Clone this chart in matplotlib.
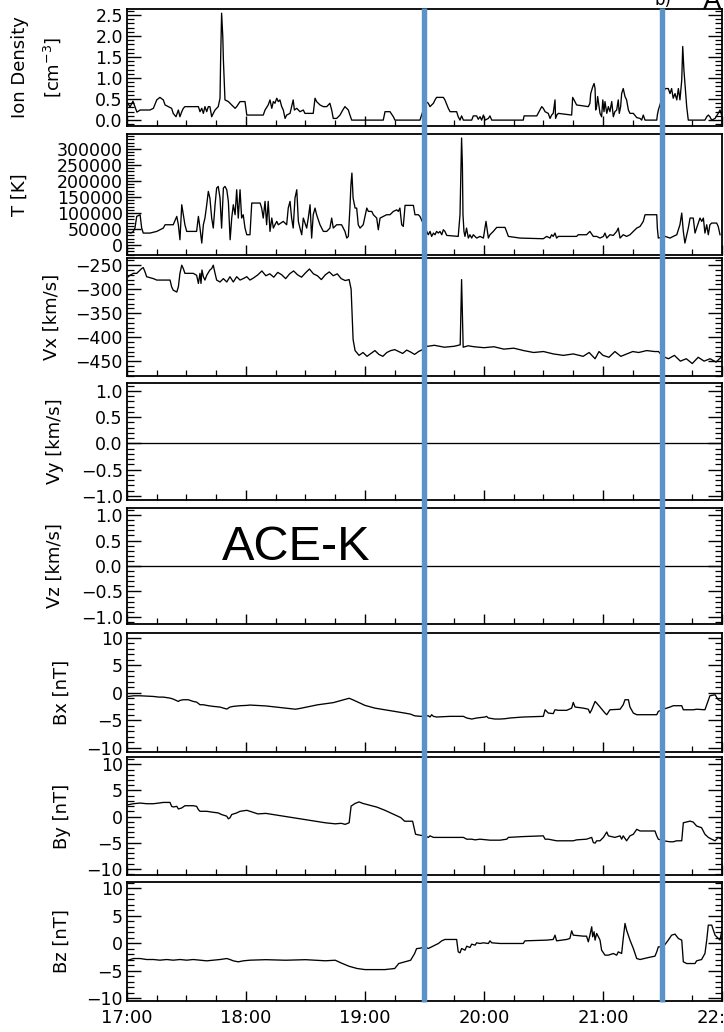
import matplotlib
matplotlib.use("Agg")
import matplotlib.pyplot as plt
from matplotlib.ticker import MultipleLocator, AutoMinorLocator, FuncFormatter
from matplotlib.lines import Line2D

# ---------------- data (time in minutes after 17:00 UT) ----------------
den_min = [0.5, 1.5, 3, 5, 6.6, 10.1, 11.6, 13.3, 15, 16.6, 18.3, 19.2, 20.8, 22.5, 23.3, 24.7, 25.9, 26.7,
           27.6, 28.4, 29.2, 36, 36.8, 37.7, 38.5, 39.3, 40.2, 41, 41.8, 42.7, 43.5, 44.4, 46, 46.9, 47.2,
           47.7, 48.3, 48.6, 49.4, 51.1, 52.8, 54.5, 55.3, 57, 59.5, 60.4, 68.7, 69.6, 71.2, 72.1, 73, 73.8,
           74.6, 75.5, 76.3, 77.1, 78, 78.8, 79.7, 80.5, 82.2, 83, 83.8, 84.4, 85.6, 87.2, 88.9, 89.7, 93.9,
           94.8, 95.6, 97.3, 99, 100.7, 102.3, 103.2, 104, 105.7, 107.4, 108.8, 109.9, 111.6, 112.4, 113.3,
           129.2, 130.1, 132.6, 134.3, 135.1, 147.7,
           150.8, 151.9, 152.8, 153.6, 154.5, 155.3, 156.1, 159.5, 160.3, 162, 162.9, 166.2, 167, 167.9,
           168.7, 169.6, 173.8, 174.6, 176.3, 177.1, 178, 178.8, 179.7, 180.5, 182.2, 183, 183.9, 199.8,
           200.2, 206.6, 208.2, 209.1, 209.9, 210.8, 212.4, 213.3, 214.1, 214.9, 215.8, 216.1, 216.7, 217.5,
           224.2, 224.7, 225.4, 226.7, 232.6, 233.4, 233.8, 234.8, 235.5, 236, 236.3, 236.8, 237.3, 237.8,
           238.5, 239.3, 239.9, 240.5, 241, 241.9, 242.7, 243.5, 244.4, 245.2, 246, 246.9, 247.7, 248.2,
           248.9, 249.4, 250.2, 251.1, 251.9, 252.8, 253.6, 255.3, 257, 258.7, 259.5, 260.3, 261.2, 267.1,
           267.4, 267.9, 271.3, 272.9, 273.8, 274.6, 275.4, 276.3, 277.2, 278, 278.8, 279.7, 280.2, 280.8,
           281.3, 282.2, 283, 291.4, 292.3, 293.1, 293.9, 294.8, 296.5, 298.1, 299, 299.8]
den_val = [0.40, 0.31, 0.45, 0.19, 0.24, 0.24, 0.24, 0.28, 0.48, 0.54, 0.48, 0.36, 0.32, 0.28, 0.16, 0.08, 0.24,
           0.08, 0.20, 0.28, 0.32, 0.32, 0.20, 0.28, 0.16, 0.32, 0.20, 0.32, 0.32, 0.08, 0.16, 0.24, 0.32, 0.52,
           1.43, 2.54, 1.98, 1.43, 0.48, 0.44, 0.36, 0.28, 0.32, 0.44, 0.44, 0.12, 0.12, 0.24, 0.36, 0.48, 0.28,
           0.44, 0.40, 0.52, 0.44, 0.48, 0.32, 0.24, 0.04, 0.12, 0.16, 0.32, 0.48, 0.24, 0.28, 0.20, 0.24, 0.16,
           0.16, 0.52, 0.44, 0.36, 0.32, 0.32, 0.40, 0.24, 0.04, 0.04, 0.12, 0.24, 0.32, 0.24, 0.12, 0.00,
           0.00, 0.20, 0.20, 0.08, 0.00, 0.00,
           0.44, 0.40, 0.32, 0.36, 0.40, 0.48, 0.54, 0.54, 0.48, 0.28, 0.20, 0.20, 0.08, 0.00,
           0.10, 0.00, 0.00, 0.10, 0.10, 0.02, 0.08, 0.00, 0.12, 0.00, 0.04, 0.10, 0.00, 0.00,
           0.10, 0.10, 0.24, 0.32, 0.28, 0.20, 0.16, 0.04, 0.12, 0.16, 0.48, 0.04, 0.12, 0.16,
           0.12, 0.54, 0.48, 0.36, 0.32, 0.40, 0.63, 0.79, 0.87, 0.75, 0.24, 0.32, 0.56, 0.40,
           0.16, 0.08, 0.48, 0.20, 0.44, 0.16, 0.32, 0.20, 0.44, 0.08, 0.20, 0.24, 0.48, 0.16,
           0.32, 0.63, 0.75, 0.56, 0.48, 0.24, 0.16, 0.16, 0.06, 0.04, 0.00, 0.12, 0.00, 0.00,
           0.12, 0.24, 0.75, 0.75, 0.63, 0.75, 0.52, 0.63, 0.48, 0.75, 0.48, 0.95, 1.75, 1.19,
           0.87, 0.32, 0.00, 0.00, 0.08, 0.12, 0.08, 0.00, 0.04, 0.16, 0.24, 0.12]

temp_min = [0.7, 2, 3.2, 4, 4.9, 6.6, 7.4, 8.2, 9.1, 11.6, 15, 18.3, 19.2, 23.3, 25.1, 25.9, 26.7, 27.6, 28.4,
            29.2, 30.1, 35.1, 36, 36.8, 37.7, 38.5, 39.3, 40.2, 41, 41.8, 42.7, 43.5, 44.4, 45.2, 46, 46.9,
            47.7, 48.6, 49.4, 50.3, 51.1, 52, 52.8, 53.6, 54.5, 55.3, 56.1, 57, 57.8, 58.6, 59.5, 60.4, 62,
            62.9, 67.1, 67.9, 68.7, 69.6, 70.4, 71.2, 72.1, 73, 73.8, 74.6, 75.5, 76.3, 78.8, 80.5, 81.3, 82.2,
            83, 83.8, 84.7, 85.6, 86.4, 87.2, 88.1, 88.9, 90.6, 91.4, 92.3, 93.1, 93.9, 94.8, 95.6, 97.3, 99,
            100.7, 102.3, 103.2, 104, 105.7, 108.2, 109.9, 110.8, 111.6, 112.4, 112.9, 113.4, 114, 115, 115.8,
            116.6, 117.5, 119.1, 120.9, 121.7, 123.4, 124.2, 125.9, 126.7, 127.6, 129.2, 130.9, 132.6, 134.3,
            136, 136.8, 137.6, 138.5, 139.3, 140.2, 142.7, 144.4, 145.2, 146.9, 147.7,
            150.8, 151.9, 152.8, 153.6, 154.5, 155.3, 156.1, 157, 157.8, 158.7, 159.5, 160.3, 161.2, 167,
            167.9, 168.4, 168.7, 169.1, 169.4, 169.9, 170.4, 171.2, 172.1, 172.9, 173.8, 174.6, 176.3, 178,
            179.7, 180.5, 181, 181.7, 182.2, 183, 184.7, 186.4, 190.6, 192.3, 198.1, 209.9, 211.6, 213.3,
            214.1, 214.9, 215.8, 216.6, 217.5, 220, 226.7, 227.5, 231.7, 233.4, 235.1, 236.8, 238.5, 240.2,
            241, 241.9, 243.5, 245.2, 246.9, 247.7, 248.6, 249.4, 250.2, 251.9, 253.6, 255.3, 257, 258.7,
            260.3, 261.2, 267.1, 267.4, 267.9, 271.3, 273.8, 275.4, 277.2, 278.8, 279.7, 280.5, 281.3, 283,
            283.9, 285.5, 286.4, 287.2, 288.9, 289.8, 290.6, 291.4, 292.3, 293.1, 293.9, 294.8, 297.3, 298.1,
            299]
temp_val = [40000, 37500, 42700, 53100, 89600, 94700, 53100, 37500, 37500, 37500, 42700, 53100, 63500, 63500,
            89600, 63500, 16700, 126000, 94800, 63500, 42700, 42700, 89600, 53100, 6250, 63500, 84400, 126000,
            167700, 146900, 84400, 53100, 126000, 178100, 183300, 146900, 53100, 178100, 183300, 172900,
            136500, 16700, 84400, 126000, 94800, 172900, 84400, 172900, 84400, 94800, 53100, 32300, 32300,
            131300, 131300, 115600, 84400, 136500, 63500, 136500, 42700, 84400, 53100, 63500, 74000, 63500,
            74000, 63500, 115600, 136500, 84400, 53100, 146900, 172900, 74000, 53100, 32300, 84400, 53100,
            84400, 126000, 21900, 94800, 115600, 94800, 63500, 42700, 42700, 53100, 84400, 53100, 63500,
            63500, 42700, 21900, 27100, 115600, 188400, 225000, 146900, 115600, 115600, 63500, 53100, 63500,
            115600, 105200, 105200, 94800, 84400, 47900, 84400, 89600, 94800, 94800, 105200, 110000, 105200,
            115600, 63500, 58300, 124000, 124000, 124000, 94800, 94800, 89600,
            47900, 32300, 42700, 27100, 37500, 32300, 42700, 37500, 42700, 32300, 47900, 42700, 30200, 27100,
            94800, 251000, 334400, 251000, 94800, 42700, 27100, 53100, 21900, 32300, 21900, 32300, 21900,
            27100, 21900, 53100, 74000, 42700, 21900, 32300, 42700, 55200, 55200, 27100, 21900, 19800, 27100,
            21900, 32300, 27100, 37500, 21900, 27100, 27100, 27100, 32300, 32300, 42700, 27100, 27100, 21900,
            27100, 37500, 21900, 32300, 30200, 42700, 53100, 21900, 27100, 32300, 27100, 32300, 42700, 53100,
            58300, 74000, 94800, 94800, 53100, 21900, 27100, 21900, 27100, 32300, 63500, 100000, 42700, 6250,
            53100, 84400, 84400, 37500, 53100, 84400, 74000, 84400, 37500, 63500, 32300, 63500, 68800, 68800,
            58300, 32300]

vx_min = [0.7, 1.5, 3.2, 4.9, 6.6, 7.4, 8.2, 9.1, 9.9, 13.3, 15, 18.3, 21.7, 22.5, 23.3, 25.1, 25.9, 26.7,
          27.6, 28.4, 29.2, 33.4, 35.1, 36, 36.8, 37.3, 37.8, 38.5, 39.3, 40.2, 41.8, 42.7, 43.5, 44.4, 45.2,
          46.9, 48.6, 50.3, 51.9, 53.6, 55.3, 57, 58.6, 60.4, 62, 64, 66, 68, 70, 72, 74, 76, 78, 80, 82, 84,
          86, 88, 90, 92, 94, 96, 98, 100, 102, 104, 106, 108, 110, 112, 113, 114, 115, 117, 119, 121, 123,
          125, 127, 129, 131, 133, 135, 137, 139, 141, 143, 145, 147, 149,
          150, 155, 160, 165, 168, 168.7, 169.5, 172, 175, 180, 185, 190, 195, 200, 205, 210, 215, 220, 225,
          230, 233, 236, 238, 240, 243, 246, 249, 252, 255, 258, 262, 266, 268, 270, 273, 276, 279, 282, 285,
          288, 291, 294, 297, 300]
vx_val = [-274, -271, -267, -267, -260, -257, -255, -264, -274, -278, -281, -281, -281, -295, -302, -306, -295,
          -267, -250, -257, -267, -267, -271, -288, -267, -288, -260, -274, -281, -271, -260, -257, -250, -267,
          -281, -285, -278, -285, -274, -285, -274, -281, -278, -274, -281, -276, -270, -262, -272, -268, -275,
          -265, -270, -278, -268, -262, -270, -275, -266, -258, -268, -272, -280, -270, -264, -272, -268, -278,
          -282, -280, -300, -405, -428, -438, -432, -440, -434, -428, -436, -440, -432, -428, -426, -430,
          -434, -427, -431, -436, -430, -426,
          -420, -417, -421, -419, -416, -280, -421, -418, -420, -422, -420, -425, -423, -428, -432, -430,
          -435, -438, -435, -440, -432, -445, -430, -438, -442, -430, -440, -435, -430, -432, -428, -430,
          -430, -440, -445, -438, -450, -445, -455, -442, -450, -445, -452, -440]

vy_min = [0, 300]
vy_val = [0.0, 0.0]
vz_min = [0, 300]
vz_val = [0.0, 0.0]

bx_min = [0.7, 3.2, 6.6, 13.3, 16.1, 18.3, 21.7, 23.3, 25.9, 26.7, 28.4, 30.9, 33.4, 35.1, 36.8, 38.5, 41,
          43.5, 46.9, 50.3, 51.9, 53.6, 57, 60.4, 62, 65, 70, 75, 80, 85, 88, 92, 96, 100, 104, 107, 110, 112,
          114, 117, 120, 125, 130, 135, 140, 143, 145, 148,
          150.3, 151.9, 152.8, 153.6, 154.5, 156.1, 162.9, 169.6, 171.3, 173.8, 176.3, 180.5, 181.3, 182.2,
          185.5, 188.1, 190.6, 193.1, 199.8, 209.9, 210.8, 212.4, 214.9, 215.8, 217.5, 221.7, 224.2, 225,
          225.9, 230.1, 232.6, 233.4, 234.3, 236, 236.8, 238.5, 241, 241.9, 243.5, 248.6, 250.2, 251.1, 252.8,
          253.6, 255.3, 257, 260.3, 267.1, 267.9, 270.4, 273.8, 275.4, 279.7, 280.5, 285.5, 287.2, 291.4,
          292.3, 293.9, 296.5, 298.1, 299.8]
bx_val = [-0.67, -0.55, -0.55, -0.67, -0.79, -0.79, -0.97, -1.15, -1.58, -1.39, -1.27, -1.27, -1.58, -1.70,
          -2.18, -2.18, -2.36, -2.48, -2.61, -2.97, -2.61, -2.48, -2.36, -2.30, -2.24, -2.3, -2.4, -2.6, -2.8,
          -3.0, -2.8, -2.5, -2.2, -2.0, -1.8, -1.5, -1.2, -1.0, -1.3, -1.8, -2.3, -2.8, -3.1, -3.4, -3.7, -3.9,
          -4.2, -4.3,
          -4.3, -4.18, -4.42, -4.0, -4.3, -4.42, -4.3, -4.3, -4.6, -4.79, -4.6, -4.42, -4.3, -4.6, -4.79,
          -4.79, -4.73, -4.6, -4.42, -4.3, -3.1, -3.7, -3.8, -3.1, -3.2, -3.2, -2.8, -1.76, -2.6, -2.8, -3.0,
          -3.7, -3.1, -1.58, -1.88, -2.6, -3.7, -4.0, -3.1, -3.0, -2.18, -1.27, -1.27, -2.6, -3.7, -4.0,
          -4.0, -4.0, -3.4, -3.0, -2.6, -2.36, -2.36, -3.1, -3.1, -3.0, -3.1, -2.18, -0.55, -0.36, -1.27,
          -1.58]

by_min = [0.7, 3.2, 6.6, 9.9, 13.3, 16.1, 18.3, 21.7, 22.5, 23.3, 25.1, 25.9, 27.6, 29.2, 33.4, 35.1, 36,
          36.8, 40.2, 43.5, 46, 47.7, 50.3, 51.1, 51.9, 52.8, 55.3, 57, 60.4, 62, 66, 70, 75, 80, 85, 90, 95,
          100, 105, 108, 110, 112, 113, 115, 117, 119, 122, 126, 130, 134, 138, 140, 144, 145.5, 148,
          150.3, 151.9, 152.8, 154.5, 162.9, 169.6, 171.3, 173.8, 175.5, 178, 183, 188.1, 191.5, 192.3, 199.8,
          209.9, 210.8, 212.4, 216.6, 225, 226.7, 231.7, 234.3, 235.1, 236, 236.8, 238.5, 240.2, 241.9, 242.7,
          246, 248.6, 249.4, 250.2, 251.9, 253.6, 255.3, 257, 258.7, 266.2, 267.1, 267.9, 270.4, 273.8,
          275.4, 277.1, 279.7, 280.5, 283.9, 285.5, 287.2, 289.7, 291.4, 293.1, 294.8, 296.5, 298.1, 299.8]
by_val = [2.26, 2.45, 2.58, 2.45, 2.45, 2.58, 2.70, 2.70, 1.95, 1.83, 1.95, 1.45, 1.64, 2.07, 2.07, 1.95,
          1.32, 1.0, 1.0, 0.81, 0.69, 0.38, 0.06, -0.44, -0.25, 0.38, 0.69, 1.0, 1.19, 1.0, 0.5, 0.6, 0.3,
          0.0, -0.3, -0.6, -0.9, -1.2, -1.4, -1.3, -1.5, -1.2, 2.0, 2.5, 2.8, 2.5, 2.2, 1.8, 1.2, 0.5, -0.2,
          -0.9, -0.9, -3.4, -3.6,
          -3.7, -4.0, -3.7, -4.0, -4.0, -4.0, -4.34, -4.34, -4.47, -4.34, -4.53, -4.53, -4.34, -4.0, -3.84,
          -3.7, -4.34, -4.34, -4.65, -4.65, -4.47, -4.34, -4.0, -4.97, -5.1, -4.65, -4.65, -4.0, -2.96, -3.7,
          -4.0, -3.7, -4.34, -3.7, -4.65, -3.7, -3.4, -2.45, -2.77, -2.77, -3.7, -4.34, -4.65, -4.84, -4.84,
          -4.65, -4.65, -1.2, -0.88, -1.07, -1.82, -2.14, -3.4, -4.0, -4.34, -4.65, -4.0, -4.34]

bz_min = [0.7, 3.2, 6.6, 9.9, 13.3, 16.6, 20, 23.3, 26.7, 30.1, 33.4, 36.8, 40.2, 43.5, 46.9, 50.3, 51.9,
          53.6, 56.1, 58.6, 62, 70, 80, 90, 100, 105, 108, 112, 116, 120, 125, 130, 135, 137, 140, 143, 145,
          146, 148,
          150.3, 151.9, 153.6, 155.3, 157, 158.7, 160.3, 166.2, 167, 167.9, 168.7, 170.4, 171.3, 172.9, 173.8,
          175.5, 176.3, 178, 179.7, 182.2, 183, 183.9, 188.1, 199.8, 200.6, 211.6, 214.9, 215.8, 216.6, 221.7,
          223.3, 224.2, 225, 230.1, 231.7, 232.6, 233.4, 234.3, 234.8, 235.5, 236, 236.8, 237.7, 238.5, 239.3,
          241, 242.7, 245.2, 246.9, 247.7, 249.4, 250.2, 251.1, 251.9, 253.6, 255.3, 257, 258.7, 262.9, 266.2,
          267.1, 267.9, 270.4, 272.9, 274.6, 276.3, 278, 279.7, 280.5, 282.2, 286.4, 287.2, 289.7, 291.4,
          292.3, 293.1, 294.8, 296.5, 299, 299.8]
bz_val = [-3.09, -2.79, -2.79, -2.97, -2.97, -3.09, -2.97, -3.09, -2.97, -3.09, -2.97, -3.09, -3.21, -3.09,
          -2.97, -2.79, -2.97, -3.21, -3.39, -3.21, -3.09, -3.0, -3.1, -3.0, -3.2, -3.1, -3.6, -4.2, -4.6,
          -4.8, -4.8, -4.8, -4.6, -3.7, -3.4, -3.1, -1.9, -1.0, -0.9,
          -0.67, -0.97, -0.67, -0.36, -0.06, 0.42, 0.67, 0.67, -1.58, -1.76, -0.97, -1.27, -0.55, -0.79,
          -0.18, -0.36, 0.06, -0.06, 0.06, -0.06, 0.42, 0.06, -0.06, -0.06, 0.42, 0.55, 0.67, 1.45, 0.42,
          0.67, 0.85, 2.24, 1.45, 1.27, 1.27, 0.24, 1.45, 2.97, 1.15, 2.06, 0.55, 1.76, 1.15, 0.55, -1.27,
          -2.18, -2.18, -1.88, -2.18, -1.58, -1.88, 0.85, 3.58, 2.36, 0.55, -0.97, -2.79, -2.97, -2.61,
          -2.36, -1.58, -0.67, -0.67, 0.55, 1.45, 1.64, 0.85, 0.55, -3.39, -3.7, -3.7, -3.21, -2.97, -1.88,
          0.55, 3.27, 3.27, 1.45, 0.55, 2.06]

hour_ticks = [17, 18, 19, 20, 21, 22]
event_hours = [19.5, 21.5]

# ---------------- figure ----------------
W, H = 724, 1032
fig = plt.figure(figsize=(W / 100, H / 100), dpi=100)
LEFT, RIGHT = 127, 722
panel_px = [(9, 126), (134, 255), (258, 376), (383, 500), (508, 624), (633, 752), (757, 875), (882, 1001)]
label_cx = [37, 20, 52, 55, 55, 62, 62, 62]   # centre of y-label block, pixels

def mfmt(fmt):
    return FuncFormatter(lambda v, p: (fmt % v).replace('-', '\u2212'))

specs = [
    (den_min, den_val, (-0.14, 2.64), 0.5, '%.1f', 'Ion Density\n[cm$^{-3}$]', True),
    (temp_min, temp_val, (-31000, 347000), 50000, '%d', 'T [K]', False),
    (vx_min, vx_val, (-481, -235), 50, '%d', 'Vx [km/s]', True),
    (vy_min, vy_val, (-1.08, 1.15), 0.5, '%.1f', 'Vy [km/s]', True),
    (vz_min, vz_val, (-1.14, 1.14), 0.5, '%.1f', 'Vz [km/s]', True),
    (bx_min, bx_val, (-10.8, 10.9), 5, '%d', 'Bx [nT]', True),
    (by_min, by_val, (-11.2, 11.4), 5, '%d', 'By [nT]', True),
    (bz_min, bz_val, (-10.5, 11.1), 5, '%d', 'Bz [nT]', True),
]

axes = []
for i, ((top, bot), spec) in enumerate(zip(panel_px, specs)):
    tmin, vals, ylim, step, fmt, label, rticks = spec
    ax = fig.add_axes([LEFT / W, 1 - bot / H, (RIGHT - LEFT) / W, (bot - top) / H])
    hours = [17 + m / 60.0 for m in tmin]
    ax.plot(hours, vals, color='black', lw=0.95)
    ax.set_xlim(17, 22)
    ax.set_ylim(*ylim)
    ax.yaxis.set_major_locator(MultipleLocator(step))
    ax.yaxis.set_minor_locator(AutoMinorLocator(5))
    ax.yaxis.set_major_formatter(mfmt(fmt))
    ax.xaxis.set_major_locator(MultipleLocator(1))
    ax.xaxis.set_minor_locator(MultipleLocator(0.25))
    ax.xaxis.set_major_formatter(FuncFormatter(lambda v, p: '%d:00' % int(round(v))))
    ax.tick_params(axis='y', which='major', direction='in', length=10, width=1.0,
                   right=rticks, labelsize=12.5, pad=3)
    ax.tick_params(axis='y', which='minor', direction='in', length=5, width=0.9, right=rticks)
    ax.tick_params(axis='x', which='major', direction='in', length=7, width=1.0, top=False,
                   labelsize=13, pad=6)
    ax.tick_params(axis='x', which='minor', direction='in', length=4, width=0.9, top=False)
    if i < len(specs) - 1:
        ax.tick_params(axis='x', labelbottom=False)
    for s in ax.spines.values():
        s.set_linewidth(1.3)
    ax.set_ylabel(label, fontsize=13, linespacing=1.75, va='center', ha='center')
    ax.yaxis.set_label_coords((label_cx[i] - LEFT) / (RIGHT - LEFT), 0.5)
    axes.append(ax)

# vertical event markers spanning all panels
top_ax, bot_ax = axes[0], axes[-1]
inv = fig.transFigure.inverted()
for h in event_hours:
    x_disp = bot_ax.transData.transform((h, 0))[0]
    xf = inv.transform((x_disp, 0))[0]
    fig.add_artist(Line2D([xf, xf], [1 - 1002 / H, 1 - 8 / H], transform=fig.transFigure,
                          color='#5b93c9', lw=3.9, solid_capstyle='butt', zorder=10))

fig.text(296 / W, 1 - 548 / H, 'ACE-K', fontsize=35, family='Liberation Sans',
         ha='center', va='center')
fig.text(655 / W, 1 - 5 / H, 'b)', fontsize=12, ha='left', va='baseline')
fig.text(703 / W, 1 - 9 / H, 'A', fontsize=20, family='Liberation Sans', ha='left', va='baseline')

fig.savefig('out.png', dpi=100)
